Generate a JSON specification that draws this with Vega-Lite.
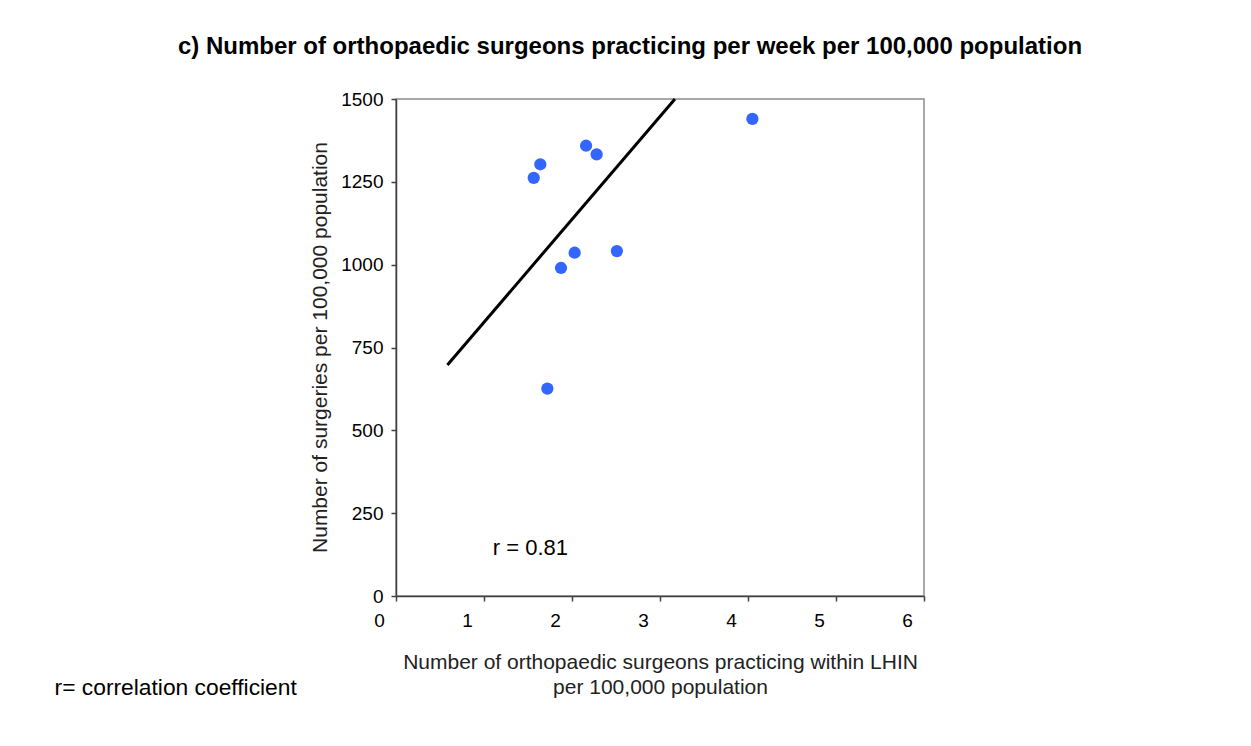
{
  "$schema": "https://vega.github.io/schema/vega-lite/v6.json",
  "autosize": {"type": "none"},
  "padding": {"left": 396, "top": 99, "right": 327, "bottom": 150},
  "width": 528,
  "height": 497,
  "background": "white",
  "config": {
    "font": "Liberation Sans",
    "view": {"stroke": "#8c8c8c", "strokeWidth": 1.5}
  },
  "title": {
    "text": "c) Number of orthopaedic surgeons practicing per week per 100,000 population",
    "fontSize": 24,
    "fontWeight": "bold",
    "color": "black",
    "anchor": "middle",
    "frame": "group",
    "dx": -30,
    "offset": 31
  },
  "datasets": {
    "points": [
      {"surgeons": 4.05, "surgeries": 1440},
      {"surgeons": 2.16, "surgeries": 1359},
      {"surgeons": 2.28, "surgeries": 1333},
      {"surgeons": 1.64, "surgeries": 1303},
      {"surgeons": 1.565, "surgeries": 1262},
      {"surgeons": 2.03, "surgeries": 1036},
      {"surgeons": 2.51, "surgeries": 1041},
      {"surgeons": 1.875, "surgeries": 990},
      {"surgeons": 1.72, "surgeries": 626}
    ],
    "fit": [
      {"surgeons": 0.584, "surgeries": 697},
      {"surgeons": 3.17, "surgeries": 1500}
    ],
    "labels": [
      {"surgeons": 1.1, "surgeries": 145, "label": "r = 0.81", "size": 22},
      {"surgeons": -3.88, "surgeries": -278, "label": "r= correlation coefficient", "size": 22.8}
    ]
  },
  "layer": [
    {
      "data": {"name": "fit"},
      "mark": {"type": "line", "color": "black", "strokeWidth": 3},
      "encoding": {
        "x": {
          "field": "surgeons", "type": "quantitative",
          "scale": {"domain": [0, 6], "nice": false, "zero": false},
          "axis": {
            "title": ["Number of  orthopaedic surgeons practicing within LHIN", "per 100,000 population"],
            "titleFontSize": 21, "titleFontWeight": "normal", "titleColor": "#222222",
            "titleLineHeight": 25, "titleBaseline": "top", "titleY": 55,
            "values": [0, 1, 2, 3, 4, 5, 6], "format": "d",
            "grid": false, "domainColor": "#404040", "domainWidth": 1.5,
            "tickColor": "#404040", "tickSize": 5, "tickWidth": 1.5,
            "labelFontSize": 19, "labelColor": "black", "labelPadding": 10,
            "labelOffset": -17, "labelFlush": false
          }
        },
        "y": {
          "field": "surgeries", "type": "quantitative",
          "scale": {"domain": [0, 1500], "nice": false},
          "axis": {
            "title": "Number of surgeries per 100,000 population",
            "titleFontSize": 21, "titleFontWeight": "normal", "titleColor": "#222222",
            "titleX": -76, "titleY": 248, "titleBaseline": "middle", "titleAngle": -90, "titleAlign": "center",
            "values": [0, 250, 500, 750, 1000, 1250, 1500], "format": "d",
            "grid": false, "domainColor": "#404040", "domainWidth": 1.5,
            "tickColor": "#404040", "tickSize": 5, "tickWidth": 1.5,
            "labelFontSize": 19, "labelColor": "black", "labelPadding": 8,
            "labelFlush": false
          }
        }
      }
    },
    {
      "data": {"name": "points"},
      "mark": {"type": "circle", "color": "#3366ff", "opacity": 1, "size": 150},
      "encoding": {
        "x": {"field": "surgeons", "type": "quantitative"},
        "y": {"field": "surgeries", "type": "quantitative"}
      }
    },
    {
      "data": {"name": "labels"},
      "mark": {"type": "text", "align": "left", "baseline": "middle", "color": "black", "clip": false},
      "encoding": {
        "x": {"field": "surgeons", "type": "quantitative"},
        "y": {"field": "surgeries", "type": "quantitative"},
        "text": {"field": "label"},
        "size": {"field": "size", "type": "quantitative", "scale": null}
      }
    }
  ]
}
